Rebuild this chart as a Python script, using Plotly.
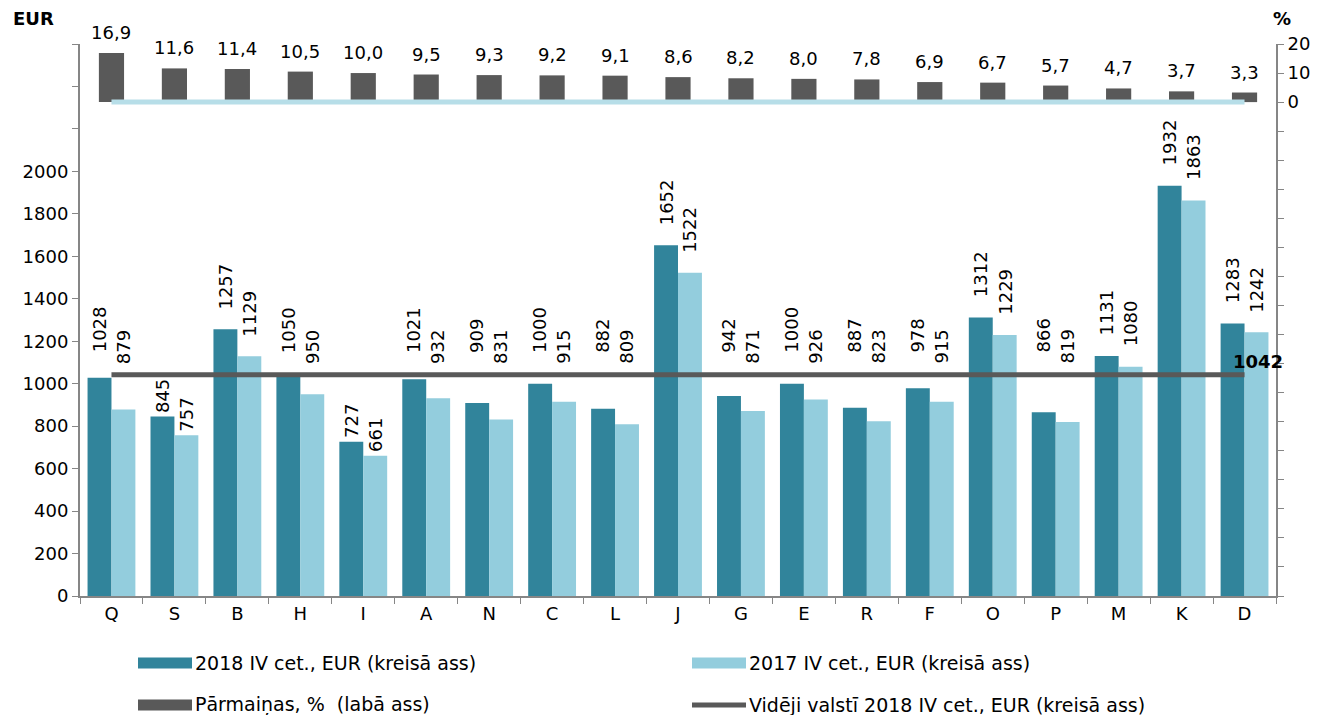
import plotly.graph_objects as go

cats = ['Q','S','B','H','I','A','N','C','L','J','G','E','R','F','O','P','M','K','D']
v2018 = [1028,845,1257,1050,727,1021,909,1000,882,1652,942,1000,887,978,1312,866,1131,1932,1283]
v2017 = [879,757,1129,950,661,932,831,915,809,1522,871,926,823,915,1229,819,1080,1863,1242]
pct = [16.9,11.6,11.4,10.5,10.0,9.5,9.3,9.2,9.1,8.6,8.2,8.0,7.8,6.9,6.7,5.7,4.7,3.7,3.3]
avg = 1042

names = ['2018 IV cet., EUR (kreisā ass)', '2017 IV cet., EUR (kreisā ass)',
         'Pārmaiņas, %  (labā ass)', 'Vidēji valstī 2018 IV cet., EUR (kreisā ass)']

c18 = '#31849B'
c17 = '#93CDDD'
cdark = '#595959'
czero = '#B7DEE8'
FONT = 'DejaVu Sans'

W, H = 1322, 715
L, R, T, B = 80, 46, 44, 119
pw, ph = W - L - R, H - T - B
YMAX = 2600
upp = YMAX / ph  # data units per pixel on the left axis

fig = go.Figure()
fig.add_trace(go.Bar(x=cats, y=v2018, name=names[0], marker=dict(color=c18, line_width=0),
                     width=0.38, offset=-0.38))
fig.add_trace(go.Bar(x=cats, y=v2017, name=names[1], marker=dict(color=c17, line_width=0),
                     width=0.38, offset=0))
fig.add_trace(go.Bar(x=cats, y=pct, name=names[2], yaxis='y2', marker=dict(color=cdark, line_width=0),
                     width=0.4, offset=-0.2))
# zero line of the % axis
fig.add_trace(go.Scatter(x=cats, y=[0]*len(cats), yaxis='y2', mode='lines',
                         line=dict(color=czero, width=5), showlegend=False))
# national average
fig.add_trace(go.Scatter(x=cats, y=[avg]*len(cats), mode='lines', name=names[3],
                         line=dict(color=cdark, width=5)))

fig.add_annotation(x=cats[-1], y=avg, text=f'<b>{avg}</b>', showarrow=False,
                   xshift=13, yshift=13, font=dict(size=18, color='black'))

# value labels: kept clear of the average line like in the original
def lab_len(v):
    return len(str(v)) * 10.7

for i, c in enumerate(cats):
    a, b = v2018[i], v2017[i]
    fits = all((v / upp) + 4 + lab_len(v) < (avg / upp) - 3 for v in (a, b))
    for v, dx, off in ((a, -0.19, 20), (b, 0.19, 9)):
        if fits:
            y = v + 2 * upp
        else:
            y = max(v + 18 * upp, avg + off * upp)
        fig.add_annotation(x=i + dx, y=y, text=str(v), textangle=-90, showarrow=False,
                           xanchor='center', yanchor='bottom', font=dict(size=18, color='black'))

for i, v in enumerate(pct):
    fig.add_annotation(x=i, y=v, yref='y2', text=f'{v:.1f}'.replace('.', ','), showarrow=False,
                       xanchor='center', yanchor='bottom', yshift=8,
                       font=dict(size=18, color='black'))

# custom legend (wide swatches like the original)
def px(x): return (x - L) / pw
def py(y): return (H - B - y) / ph

legend = [(138, 663, c18, 'bar', names[0]), (692, 663, c17, 'bar', names[1]),
          (138, 705, cdark, 'bar', names[2]), (692, 705, cdark, 'line', names[3])]
for x0, yc, col, kind, txt in legend:
    if kind == 'bar':
        fig.add_shape(type='rect', xref='paper', yref='paper', x0=px(x0), x1=px(x0 + 54),
                      y0=py(yc + 5.5), y1=py(yc - 5.5), fillcolor=col, line_width=0)
    else:
        fig.add_shape(type='line', xref='paper', yref='paper', x0=px(x0), x1=px(x0 + 54),
                      y0=py(yc), y1=py(yc), line=dict(color=col, width=5))
    fig.add_annotation(xref='paper', yref='paper', x=px(x0 + 55), y=py(yc), text=txt,
                       showarrow=False, xanchor='left', yanchor='middle',
                       font=dict(size=19, color='black'))

fig.add_annotation(xref='paper', yref='paper', x=px(11), y=py(18), text='<b>EUR</b>',
                   showarrow=False, xanchor='left', yanchor='middle', font=dict(size=18, color='black'))
fig.add_annotation(xref='paper', yref='paper', x=px(1293), y=py(18), text='<b>%</b>',
                   showarrow=False, xanchor='right', yanchor='middle', font=dict(size=18, color='black'))

left_ticks = list(range(0, YMAX + 1, 200))
right_ticks = list(range(-170, 21, 10))
axcol = '#868686'

fig.update_layout(
    width=W, height=H, margin=dict(l=L, r=R, t=T, b=B),
    barmode='overlay', showlegend=False,
    plot_bgcolor='white', paper_bgcolor='white',
    font=dict(family=FONT, size=18, color='black'),
    xaxis=dict(type='category', tickson='boundaries', ticks='outside', ticklen=6,
               tickcolor=axcol, showline=True, linecolor=axcol, linewidth=2,
               showgrid=False, tickfont=dict(size=18), range=[-0.5, len(cats) - 0.5]),
    yaxis=dict(range=[0, YMAX], tickvals=left_ticks,
               ticktext=[str(v) if v <= 2000 else '' for v in left_ticks],
               ticks='outside', ticklen=6, tickcolor=axcol, showline=True, linecolor=axcol,
               linewidth=2, showgrid=False, zeroline=False, tickfont=dict(size=18)),
    yaxis2=dict(range=[-170, 20], overlaying='y', side='right', tickvals=right_ticks,
                ticktext=[str(v) if v >= 0 else '' for v in right_ticks],
                ticks='outside', ticklen=6, tickcolor=axcol, showline=True, linecolor=axcol,
                linewidth=2, showgrid=False, zeroline=False, tickfont=dict(size=18)),
)

fig.write_html('out.html', config={'displayModeBar': False},
               post_script="document.body.style.margin='0';document.body.style.overflow='hidden';")
